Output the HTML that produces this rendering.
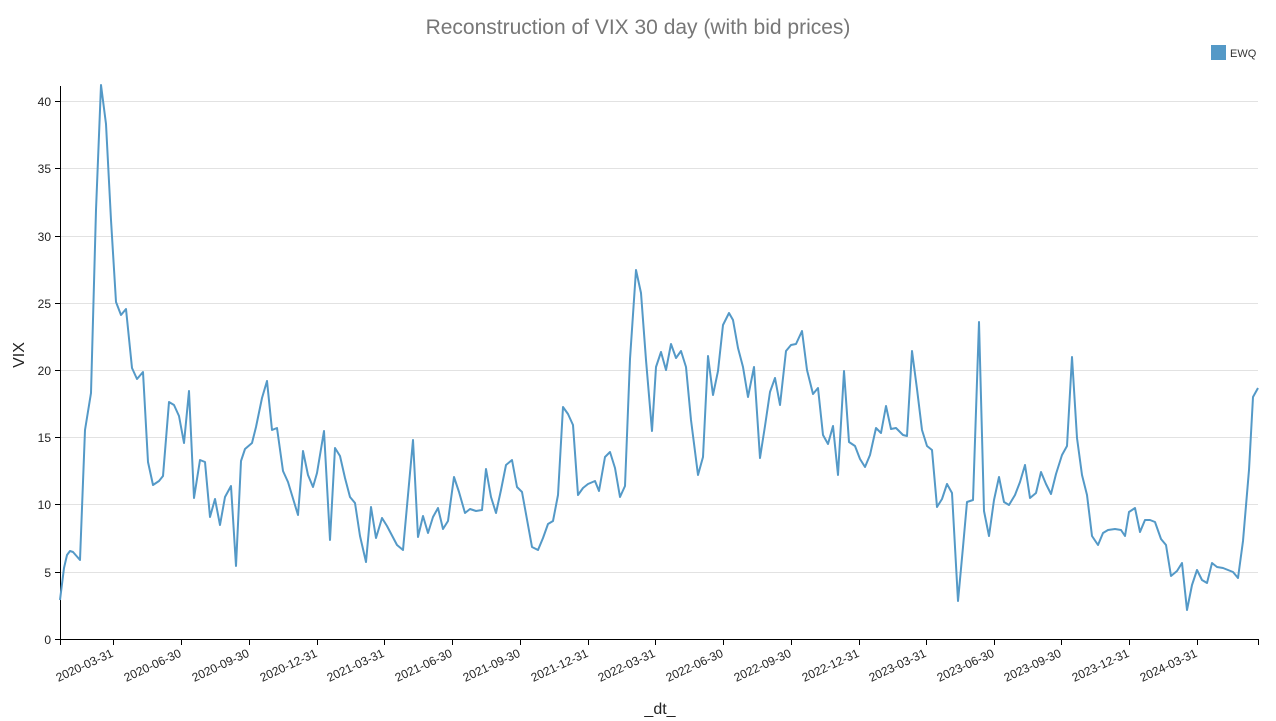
<!DOCTYPE html>
<html><head><meta charset="utf-8"><style>
body{margin:0;background:#fff;}
svg{display:block;font-family:"Liberation Sans",sans-serif;}
</style></head><body>
<svg width="1276" height="721" xmlns="http://www.w3.org/2000/svg">
<text x="638" y="34" text-anchor="middle" font-size="21" fill="#777">Reconstruction of VIX 30 day (with bid prices)</text>
<rect x="1211" y="45" width="15" height="15" fill="#5499c7"/>
<text x="1230" y="57" font-size="11" fill="#333">EWQ</text>
<g stroke="#e2e2e2" stroke-width="1">
<line x1="60" x2="1258" y1="101.5" y2="101.5"/>
<line x1="60" x2="1258" y1="168.5" y2="168.5"/>
<line x1="60" x2="1258" y1="236.5" y2="236.5"/>
<line x1="60" x2="1258" y1="303.5" y2="303.5"/>
<line x1="60" x2="1258" y1="370.5" y2="370.5"/>
<line x1="60" x2="1258" y1="437.5" y2="437.5"/>
<line x1="60" x2="1258" y1="504.5" y2="504.5"/>
<line x1="60" x2="1258" y1="572.5" y2="572.5"/>
</g>
<g stroke="#000" stroke-width="1" fill="none">
<path d="M60.5 86V639.5H1258.5"/>
<path d="M55 101.5H60M55 168.5H60M55 236.5H60M55 303.5H60M55 370.5H60M55 437.5H60M55 504.5H60M55 572.5H60M55 639.5H60"/>
<path d="M60.5 639V645M113.5 639V645M181.5 639V645M249.5 639V645M317.5 639V645M384.5 639V645M452.5 639V645M520.5 639V645M588.5 639V645M655.5 639V645M723.5 639V645M791.5 639V645M859.5 639V645M926.5 639V645M994.5 639V645M1061.5 639V645M1129.5 639V645M1197.5 639V645M1258.5 639V645"/>
</g>
<g font-size="12" fill="#222" text-anchor="end">
<text x="51" y="106">40</text><text x="51" y="173">35</text><text x="51" y="241">30</text><text x="51" y="308">25</text><text x="51" y="375">20</text><text x="51" y="442">15</text><text x="51" y="509">10</text><text x="51" y="577">5</text><text x="51" y="644">0</text>
</g>
<g font-size="12" fill="#222" text-anchor="end">
<text transform="translate(114,656) rotate(-25)">2020-03-31</text>
<text transform="translate(182,656) rotate(-25)">2020-06-30</text>
<text transform="translate(250,656) rotate(-25)">2020-09-30</text>
<text transform="translate(318,656) rotate(-25)">2020-12-31</text>
<text transform="translate(385,656) rotate(-25)">2021-03-31</text>
<text transform="translate(453,656) rotate(-25)">2021-06-30</text>
<text transform="translate(521,656) rotate(-25)">2021-09-30</text>
<text transform="translate(589,656) rotate(-25)">2021-12-31</text>
<text transform="translate(656,656) rotate(-25)">2022-03-31</text>
<text transform="translate(724,656) rotate(-25)">2022-06-30</text>
<text transform="translate(792,656) rotate(-25)">2022-09-30</text>
<text transform="translate(860,656) rotate(-25)">2022-12-31</text>
<text transform="translate(927,656) rotate(-25)">2023-03-31</text>
<text transform="translate(995,656) rotate(-25)">2023-06-30</text>
<text transform="translate(1062,656) rotate(-25)">2023-09-30</text>
<text transform="translate(1130,656) rotate(-25)">2023-12-31</text>
<text transform="translate(1198,656) rotate(-25)">2024-03-31</text>
</g>
<text x="660" y="714" text-anchor="middle" font-size="16" fill="#222">_dt_</text>
<text transform="translate(24,355) rotate(-90)" text-anchor="middle" font-size="16" fill="#222">VIX</text>
<polyline fill="none" stroke="#5499c7" stroke-width="2" stroke-linejoin="round" points="60,600 64,568 67,555 70,551 73,552 80,560 85,430 91,393 96,210 101,85 106,124 111,220 116,302 121,315 126,309 132,368 137,379 143,372 148,462 153,485 159,481 163,476 169,402 174,405 179,416 184,443 189,391 194,498 200,460 205,462 210,517 215,499 220,525 225,497 231,486 236,566 241,461 245,449 252,443 256,427 262,398 267,381 272,430 277,428 283,471 288,482 298,515 303,451 308,475 313,487 317,473 324,431 330,540 335,448 340,456 345,478 350,497 355,503 360,536 366,562 371,507 376,538 382,518 387,526 397,545 403,550 413,440 418,537 423,516 428,533 433,517 438,508 443,529 448,521 454,477 459,492 465,513 470,509 476,511 482,510 486,469 491,497 496,513 501,490 506,465 512,460 517,487 522,492 532,547 538,550 543,538 548,524 553,521 558,495 563,407 568,414 573,425 578,495 583,488 588,484 595,481 599,491 605,457 610,452 615,468 620,497 625,486 630,359 636,270 641,293 646,360 652,431 656,367 661,352 666,370 671,344 676,358 681,351 686,367 691,420 698,475 703,457 708,356 713,395 718,371 723,325 729,313 733,320 738,348 743,367 748,397 754,367 760,458 765,426 770,392 775,378 780,405 786,351 791,345 796,344 802,331 807,370 813,394 818,388 823,435 828,444 833,426 838,475 844,371 849,442 855,446 860,459 865,467 870,455 876,428 881,433 886,406 891,429 896,428 903,435 907,436 912,351 917,389 922,430 927,446 932,450 937,507 942,499 947,484 952,493 958,601 963,547 967,502 973,500 979,322 984,511 989,536 994,500 999,477 1004,502 1009,505 1015,495 1020,482 1025,465 1030,498 1036,493 1041,472 1046,484 1051,494 1056,474 1062,455 1067,446 1072,357 1077,438 1082,475 1087,495 1092,536 1098,545 1103,533 1108,530 1115,529 1121,530 1125,536 1129,512 1135,508 1140,532 1145,520 1150,520 1155,522 1161,539 1166,545 1171,576 1177,571 1182,563 1187,610 1192,585 1197,570 1202,580 1207,583 1212,563 1217,567 1223,568 1233,572 1238,578 1243,541 1249,470 1253,397 1258,388"/>
</svg>
</body></html>
